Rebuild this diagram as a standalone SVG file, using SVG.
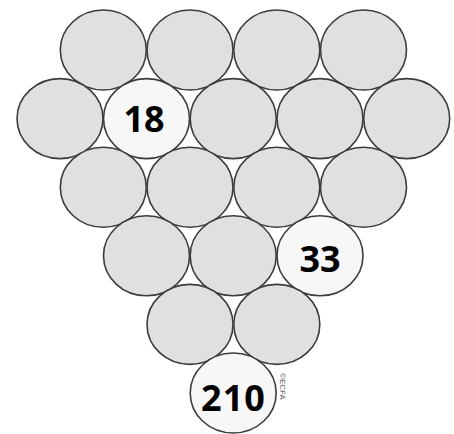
<svg xmlns="http://www.w3.org/2000/svg" width="454" height="434" viewBox="0 0 454 434">
<defs>
<style>
.c{fill:#e0e0e0;stroke:#3c3c3c;stroke-width:1.6}
.w{fill:#f7f7f7;stroke:#3c3c3c;stroke-width:1.6}
.t{font-family:"Open Sans","Noto Sans",sans-serif;font-weight:bold;font-size:36px;fill:#000;text-anchor:middle}
.s{font-family:"Liberation Sans",sans-serif;font-size:8px;fill:#555}
</style>
</defs>
<rect width="454" height="434" fill="#fff"/>
<g id="row0">
<ellipse id="n0a" class="c" cx="103.3" cy="50" rx="43" ry="40"/>
<ellipse id="n0b" class="c" cx="190" cy="50" rx="43" ry="40"/>
<ellipse id="n0c" class="c" cx="276.8" cy="50" rx="43" ry="40"/>
<ellipse id="n0d" class="c" cx="363.5" cy="50" rx="43" ry="40"/>
</g>
<g id="row1">
<ellipse id="n1a" class="c" cx="60" cy="118.6" rx="43" ry="40"/>
<g id="n18"><ellipse class="w" cx="146.5" cy="118.6" rx="43" ry="40"/><text class="t" x="144" y="132">18</text></g>
<ellipse id="n1c" class="c" cx="233.2" cy="118.6" rx="43" ry="40"/>
<ellipse id="n1d" class="c" cx="320" cy="118.6" rx="43" ry="40"/>
<ellipse id="n1e" class="c" cx="406.7" cy="118.6" rx="43" ry="40"/>
</g>
<g id="row2">
<ellipse id="n2a" class="c" cx="103.3" cy="187.2" rx="43" ry="40"/>
<ellipse id="n2b" class="c" cx="190" cy="187.2" rx="43" ry="40"/>
<ellipse id="n2c" class="c" cx="276.8" cy="187.2" rx="43" ry="40"/>
<ellipse id="n2d" class="c" cx="363.5" cy="187.2" rx="43" ry="40"/>
</g>
<g id="row3">
<ellipse id="n3a" class="c" cx="146.5" cy="255.8" rx="43" ry="40"/>
<ellipse id="n3b" class="c" cx="233.2" cy="255.8" rx="43" ry="40"/>
<g id="n33"><ellipse class="w" cx="320" cy="255.8" rx="43" ry="40"/><text class="t" x="320" y="272">33</text></g>
</g>
<g id="row4">
<ellipse id="n4a" class="c" cx="190" cy="324.4" rx="43" ry="40"/>
<ellipse id="n4b" class="c" cx="276.8" cy="324.4" rx="43" ry="40"/>
</g>
<g id="row5">
<g id="n210"><ellipse class="w" cx="233.2" cy="393" rx="43" ry="40"/><text class="t" x="233.5" y="411" letter-spacing="1">210</text></g>
<text class="s" transform="translate(280,373) rotate(90)">©ECFA</text>
</g>
<g id="connectors"/>
</svg>
